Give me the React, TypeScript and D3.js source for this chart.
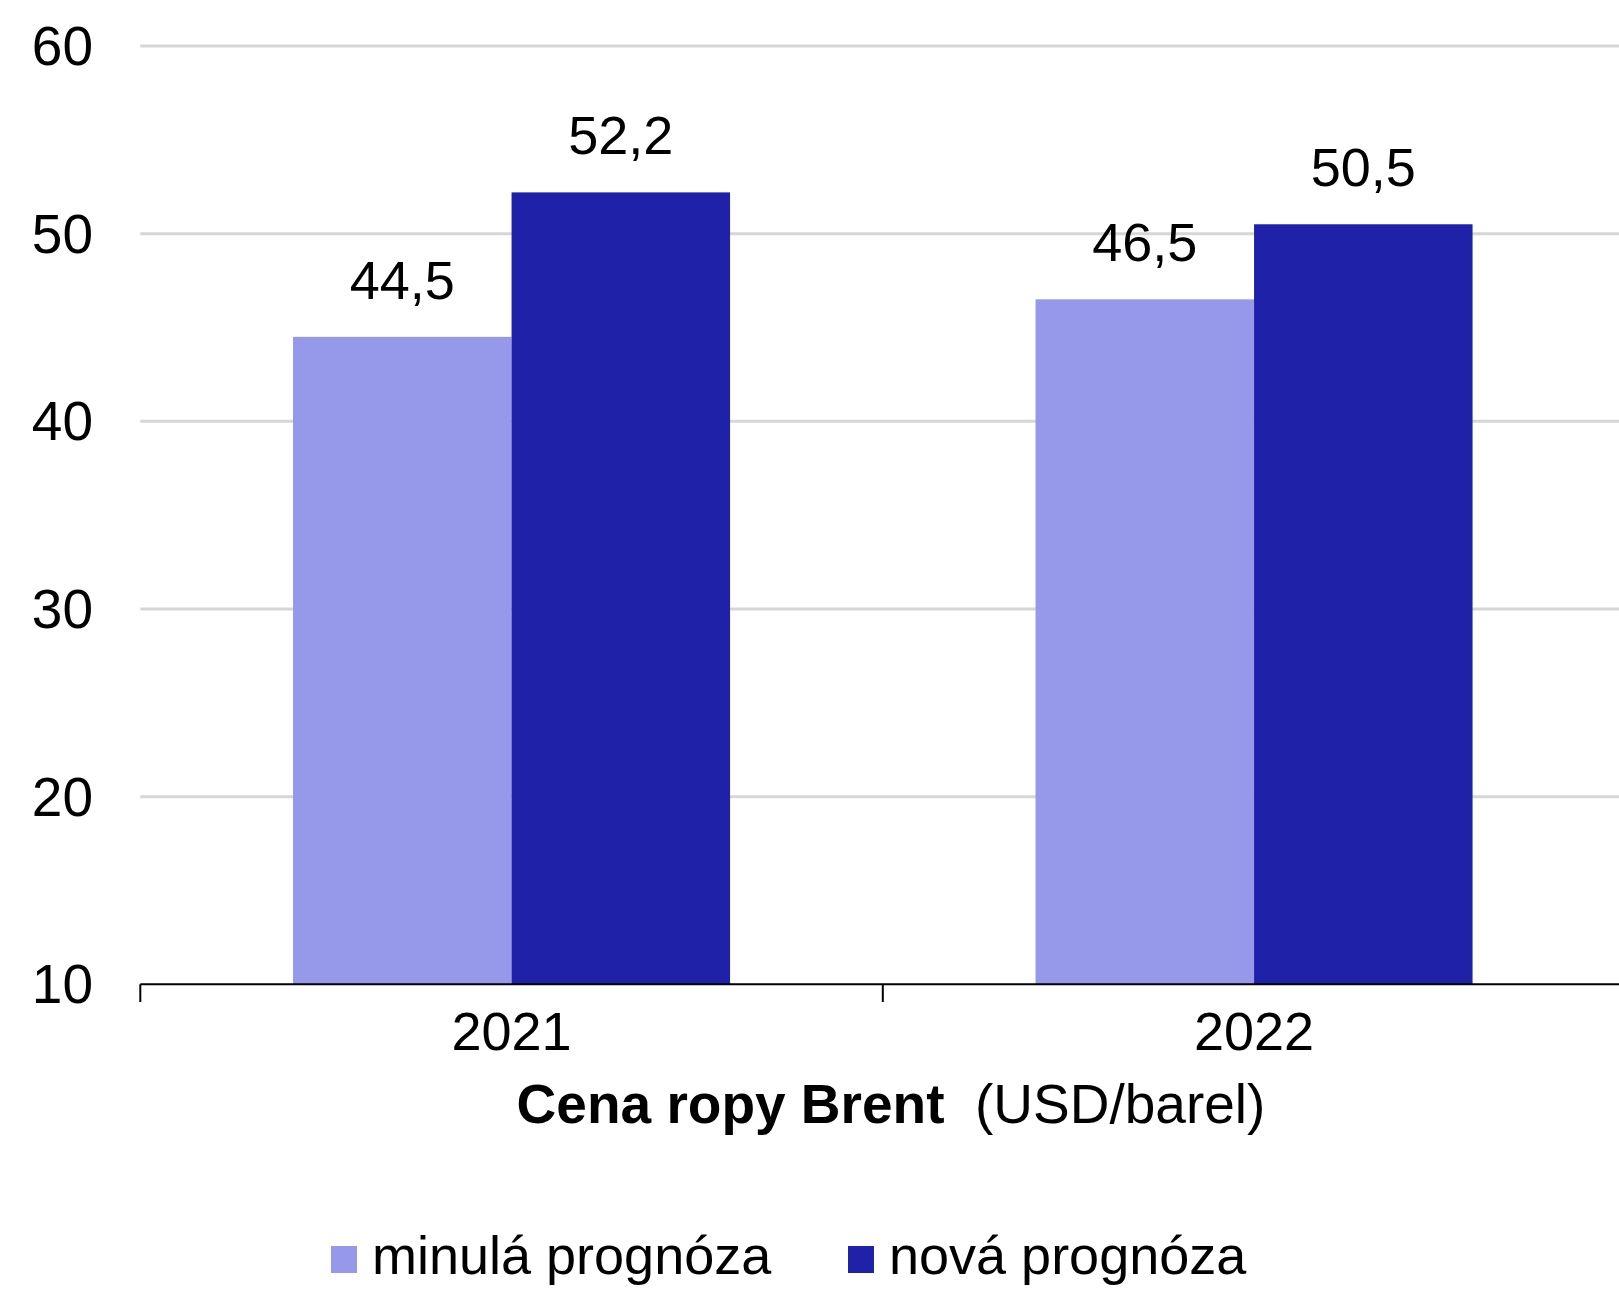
import React from "react";
import * as d3 from "d3";

const categories = ["2021", "2022"];
const seriesNames = ["minulá prognóza", "nová prognóza"];
const seriesColors = ["#9698EA", "#1F22A9"];
const minulaValues = [44.5, 46.5];
const novaValues = [52.2, 50.5];
const yTicks = [10, 20, 30, 40, 50, 60];

const W = 1619;
const H = 1291;
const FONT = "'Liberation Sans', Arial, sans-serif";

export default function App() {
  const left = 140.3;
  const right = 1625.3;
  const y = d3.scaleLinear().domain([10, 60]).range([984.3, 46]);
  const x0 = d3.scaleBand<string>().domain(categories).range([left, right]).padding(0);
  const groupFrac = 0.5886;
  const groupW = x0.bandwidth() * groupFrac;
  const x1 = d3.scaleBand<number>().domain([0, 1]).range([0, groupW]).padding(0);
  const series = [minulaValues, novaValues];
  const fmt = (v: number) => v.toFixed(1).replace(".", ",");

  return (
    <svg
      width={W}
      height={H}
      style={{ position: "absolute", left: 0, top: 0, display: "block", background: "#fff" }}
      fontFamily={FONT}
    >
      <rect x={0} y={0} width={W} height={H} fill="#fff" />
      {yTicks.filter((t) => t !== 10).map((t) => (
        <line key={t} x1={left} x2={W} y1={y(t)} y2={y(t)} stroke="#d6d6d6" strokeWidth={3} />
      ))}
      {yTicks.map((t) => (
        <text key={"yl" + t} x={93} y={y(t) + 19} textAnchor="end" fontSize={55} fill="#000">
          {t}
        </text>
      ))}
      {categories.map((c, ci) => {
        const gx = (x0(c) as number) + (x0.bandwidth() - groupW) / 2;
        return (
          <g key={c}>
            {series.map((vals, si) => {
              const bx = gx + (x1(si) as number);
              const v = vals[ci];
              return (
                <g key={si}>
                  <rect
                    x={bx}
                    y={y(v)}
                    width={x1.bandwidth()}
                    height={y(10) - y(v)}
                    fill={seriesColors[si]}
                  />
                  <text
                    x={bx + x1.bandwidth() / 2}
                    y={y(v) - 38}
                    textAnchor="middle"
                    fontSize={54}
                    fill="#000"
                  >
                    {fmt(v)}
                  </text>
                </g>
              );
            })}
            <text
              x={(x0(c) as number) + x0.bandwidth() / 2}
              y={1050}
              textAnchor="middle"
              fontSize={54}
              fill="#000"
            >
              {c}
            </text>
          </g>
        );
      })}
      <line x1={left} x2={W} y1={y(10)} y2={y(10)} stroke="#000" strokeWidth={2} />
      {[left, (x0("2022") as number)].map((tx, i) => (
        <line key={"tk" + i} x1={tx} x2={tx} y1={y(10)} y2={1002} stroke="#000" strokeWidth={2} />
      ))}
      <text x={891} y={1123} textAnchor="middle" fontSize={55} fill="#000" style={{ whiteSpace: "pre" }}>
        <tspan fontWeight="bold">Cena ropy Brent</tspan>
        <tspan>{"  (USD/barel)"}</tspan>
      </text>
      {seriesNames.map((n, i) => {
        const lx = i === 0 ? 331 : 848;
        return (
          <g key={n}>
            <rect x={lx} y={1246} width={26} height={27} fill={seriesColors[i]} />
            <text x={lx + 41} y={1274} fontSize={54} fill="#000">
              {n}
            </text>
          </g>
        );
      })}
    </svg>
  );
}
